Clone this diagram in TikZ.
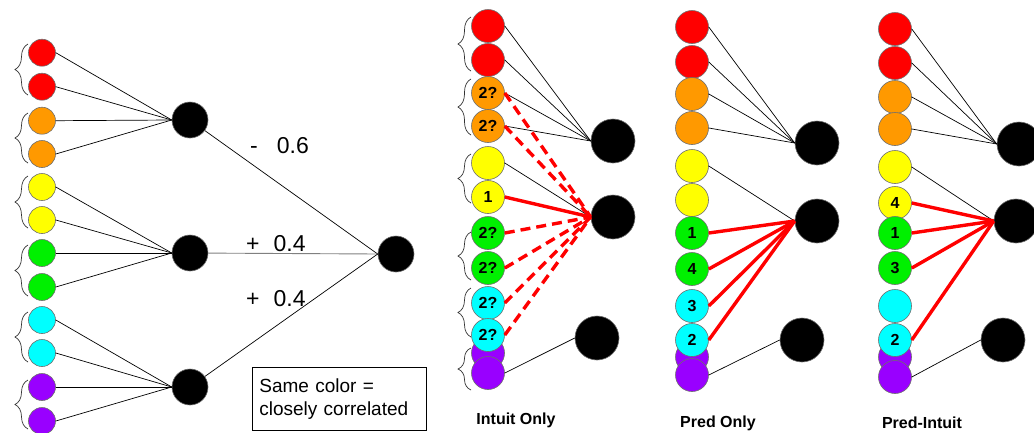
\documentclass[tikz,border=0pt]{standalone}
\usepackage{fontspec}
\setmainfont{Liberation Sans}
\usetikzlibrary{decorations.pathreplacing}
\definecolor{cred}{RGB}{255,0,0}
\definecolor{corange}{RGB}{255,153,0}
\definecolor{cyellow}{RGB}{255,255,0}
\definecolor{cgreen}{RGB}{0,240,0}
\definecolor{ccyan}{RGB}{0,255,255}
\definecolor{cpurple}{RGB}{153,0,255}
\definecolor{edgegray}{RGB}{110,110,110}
\begin{document}
\begin{tikzpicture}[x=1pt,y=-1pt,
  unit/.style={circle, draw=edgegray, line width=0.6pt, minimum size=#1, inner sep=0pt,
    font=\fontsize{16}{16}\selectfont\bfseries},
  hid/.style={circle, fill=black, draw=edgegray, line width=0.6pt, minimum size=#1, inner sep=0pt},
  wire/.style={black, line width=0.7pt},
  redline/.style={cred, line width=3.4pt},
  reddash/.style={cred, line width=3.4pt, dash pattern=on 10pt off 6pt},
  bracebox/.style={decorate, decoration={brace, amplitude=13pt}, line width=0.7pt, draw=black!80},
  weight/.style={anchor=base west, inner sep=0pt, font=\fontsize{23}{23}\selectfont},
  title/.style={font=\fontsize{16}{16}\selectfont\bfseries}]
\useasboundingbox (0,0) rectangle (1034,432);

% ---------- left panel ----------
\foreach \i/\y/\c in {11/387/cpurple,12/421/cpurple,1/52.7/cred,2/86.7/cred,3/120.7/corange,4/154/corange,
  5/187/cyellow,6/220/cyellow,7/253/cgreen,8/287/cgreen,9/320/ccyan,10/353/ccyan}
  \node[unit=27pt, fill=\c] (L\i) at (42,\y) {};
\node[hid=36pt] (LA) at (190,120) {};
\node[hid=36pt] (LB) at (190,253) {};
\node[hid=36pt] (LC) at (190,387) {};
\node[hid=36pt] (LO) at (396,254) {};
\foreach \i in {1,...,4} \draw[wire] (L\i.east) -- (LA.west);
\foreach \i in {5,...,8} \draw[wire] (L\i.east) -- (LB.west);
\foreach \i in {9,...,12} \draw[wire] (L\i.east) -- (LC.west);
\draw[wire] (LA) -- (LO.west);
\draw[line width=0.9pt, black!50] (LB) -- (LO.west);
\draw[wire] (LC) -- (LO.west);
\foreach \a/\b in {44/95,113/163,176/228,245/296,312/362,380/429}
  \draw[bracebox] (28,\b) -- (28,\a);
\node[weight] (w1) at (250,153) {-\hspace{19pt}0.6};
\node[weight] (w2) at (246,251.7) {+\hspace{14pt}0.4};
\node[weight] (w3) at (246,306) {+\hspace{14pt}0.4};
\node[draw, line width=0.7pt, anchor=north west, text width=160pt, minimum height=63pt,
  inner xsep=7pt, inner ysep=0pt, align=left, font=\fontsize{19}{23}\selectfont]
  (legend) at (252,367) {Same color =\\closely correlated};

% ---------- Intuit Only ----------
\foreach \i/\y/\c/\t in {11/353/cpurple/,12/373/cpurple/,1/26/cred/,2/60/cred/,3/93/corange/2?,4/126/corange/2?,
  5/163/cyellow/,6/197/cyellow/1,7/233/cgreen/2?,8/268/cgreen/2?,9/303/ccyan/2?,10/335/ccyan/2?}
  \node[unit=33pt, fill=\c] (M\i) at (488,\y) {\t};
\node[hid=44pt] (MA) at (613,141) {};
\node[hid=44pt] (MB) at (613,217) {};
\node[hid=44pt] (MC) at (597,338) {};
\foreach \i in {1,...,4} \draw[wire] (M\i.east) -- (MA.west);
\draw[wire] (M5.east) -- (MB.west);
\draw[wire] (M12.east) -- (MC.west);
\foreach \i in {3,4,7,8,9,10} \draw[reddash] (M\i.east) -- (MB.west);
\draw[redline] (M6.east) -- (MB.west);
\foreach \a/\b in {17/71,79/135,154/203,232/280,288/337,348/390}
  \draw[bracebox] (471,\b) -- (471,\a);
\node[title] (t1) at (516,420) {Intuit Only};

% ---------- Pred Only ----------
\foreach \i/\y/\c/\t in {11/357/cpurple/,12/375/cpurple/,1/27/cred/,2/62/cred/,3/94/corange/,4/128/corange/,
  5/166/cyellow/,6/200/cyellow/,7/233/cgreen/1,8/269/cgreen/4,9/306/ccyan/3,10/340/ccyan/2}
  \node[unit=33pt, fill=\c] (P\i) at (692,\y) {\t};
\node[hid=44pt] (PA) at (817,143) {};
\node[hid=44pt] (PB) at (817,221) {};
\node[hid=44pt] (PC) at (802,340) {};
\foreach \i in {1,...,4} \draw[wire] (P\i.east) -- (PA.west);
\draw[wire] (P5.east) -- (PB.west);
\draw[wire] (P12.east) -- (PC.west);
\foreach \i in {7,8,9,10} \draw[redline] (P\i.east) -- (PB.west);
\node[title] (t2) at (718,423) {Pred Only};

% ---------- Pred-Intuit ----------
\foreach \i/\y/\c/\t in {11/357/cpurple/,12/377/cpurple/,1/29/cred/,2/63/cred/,3/97/corange/,4/129/corange/,
  5/167/cyellow/,6/203/cyellow/4,7/233/cgreen/1,8/268/cgreen/3,9/306/ccyan/,10/340/ccyan/2}
  \node[unit=33pt, fill=\c] (Q\i) at (895,\y) {\t};
\node[hid=44pt] (QA) at (1019,144) {};
\node[hid=44pt] (QB) at (1016,221) {};
\node[hid=44pt] (QC) at (1003,340) {};
\foreach \i in {1,...,4} \draw[wire] (Q\i.east) -- (QA.west);
\draw[wire] (Q5.east) -- (QB.west);
\draw[wire] (Q12.east) -- (QC.west);
\foreach \i in {6,7,8,10} \draw[redline] (Q\i.east) -- (QB.west);
\node[title] (t3) at (922,423) {Pred-Intuit};
\end{tikzpicture}
\end{document}
